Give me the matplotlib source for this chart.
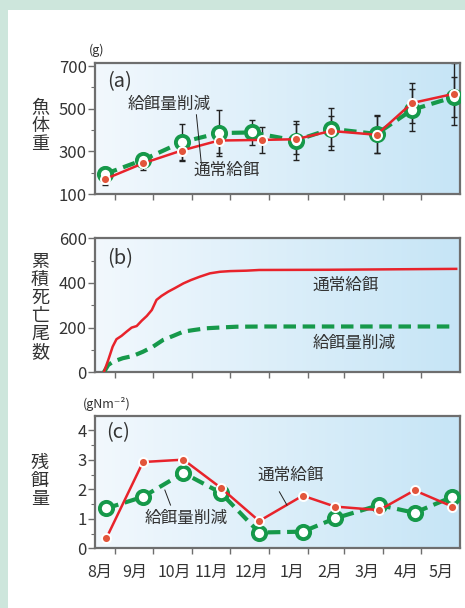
import matplotlib
matplotlib.use("Agg")
import matplotlib.pyplot as plt
import numpy as np
from matplotlib.patches import Rectangle

plt.rcParams['font.family'] = ['Noto Sans CJK JP', 'DejaVu Sans']

# 日数 (8月1日 = 0)
MONTH_EDGES = [31, 61, 92, 122, 153, 184, 212, 243, 273]
MONTH_LABEL_POS = [19, 46.5, 78, 107, 139, 171, 200.5, 230, 261, 289]
MONTH_LABELS = ["8月", "9月", "10月", "11月", "12月", "1月", "2月", "3月", "4月", "5月"]

# (a) 魚体重
a_normal_x = [23, 53, 83.5, 113, 147, 174, 202, 238, 266, 299]
a_normal_y = [170, 244, 304, 351, 354, 357, 396, 378, 527, 570]
a_normal_err = [28, 30, 50, 60, 62, 70, 72, 86, 95, 145]
a_reduced_x = [23, 53, 83.5, 113, 139, 174, 202, 238, 266, 299]
a_reduced_y = [194, 260, 343, 386, 389, 351, 406, 382, 495, 555]
a_reduced_err = [32, 20, 85, 109, 59, 90, 100, 90, 100, 95]

# (b) 累積死亡尾数
b_normal_x = [22, 25.5, 29, 32, 36, 40, 44, 48, 52, 56, 60, 63.7, 67.7, 73, 78, 85,
              91, 98, 106, 114, 122, 135, 145, 200, 250, 301]
b_normal_y = [0, 55, 115, 148, 163, 182, 200, 207, 231, 252, 279, 324, 342, 361, 376, 398,
              413, 428, 443, 450, 453, 455, 458, 459, 461, 463]
b_reduced_x = [22, 25.5, 29.5, 37, 45, 53, 61, 69, 77, 85, 93, 103, 116, 127, 150, 200, 299]
b_reduced_y = [0, 33, 48, 63, 73, 92, 115, 145, 163, 182, 189, 197, 201, 204, 205, 205, 205]

# (c) 残餌量
c_x = [24, 53, 85, 114.5, 145, 179.5, 205, 240, 268, 298]
c_normal = [0.35, 2.93, 3.01, 2.06, 0.93, 1.79, 1.42, 1.30, 1.97, 1.42]
c_reduced = [1.36, 1.75, 2.56, 1.89, 0.54, 0.57, 1.02, 1.47, 1.21, 1.75]

RED = '#e8232b'
RED_DOT = '#e2553b'
GREEN = '#16994a'
TEXT = '#333333'
SPINE = '#6e6e6e'
XLIM = (15, 304)


def gradient_bg(ax, ylim):
    """背景のグラデーション"""
    left = np.array([242, 248, 253]) / 255
    right = np.array([198, 229, 246]) / 255
    t = np.linspace(0, 1, 256)[None, :, None]
    img = left + (right - left) * t
    ax.imshow(img, extent=[XLIM[0], XLIM[1], ylim[0], ylim[1]], aspect='auto',
              zorder=0, interpolation='bicubic')
    ax.set_xlim(*XLIM)
    ax.set_ylim(*ylim)


def style_axes(ax, ylim, major, minor, show_months=False):
    gradient_bg(ax, ylim)
    for sp in ax.spines.values():
        sp.set_color(SPINE)
        sp.set_linewidth(1.6)
    ax.set_yticks(major)
    ax.set_yticks(minor, minor=True)
    ax.tick_params(axis='y', which='major', length=5, width=1, color=SPINE,
                   labelsize=12, labelcolor=TEXT, pad=1)
    ax.tick_params(axis='y', which='minor', length=3, width=0.8, color=SPINE)
    ax.set_xticks(MONTH_EDGES)
    ax.set_xticklabels([])
    ax.tick_params(axis='x', which='major', length=4, width=1, color=SPINE)
    if show_months:
        ax.set_xticks(MONTH_LABEL_POS, minor=True)
        ax.set_xticklabels(MONTH_LABELS, minor=True)
        ax.tick_params(axis='x', which='minor', length=0, pad=11, labelsize=11.5,
                       labelcolor=TEXT)
    else:
        ax.set_xticks([], minor=True)


fig = plt.figure(figsize=(4.65, 6.08), dpi=100)
fig.patch.set_facecolor('#cde6dc')
fig.add_artist(Rectangle((8 / 465, 0), 1, 1 - 10 / 608, transform=fig.transFigure,
                         facecolor='white', edgecolor='none', zorder=-1))

ax_a = fig.add_axes([0.2043, 0.6809, 0.7849, 0.2155])
ax_b = fig.add_axes([0.2043, 0.3877, 0.7849, 0.2204])
ax_c = fig.add_axes([0.2043, 0.0979, 0.7849, 0.2184])

# (a)
style_axes(ax_a, (100, 715), [100, 300, 500, 700], [200, 400, 600])
ax_a.errorbar(a_reduced_x, a_reduced_y, yerr=a_reduced_err, fmt='none', ecolor='#222222',
              elinewidth=1, capsize=2.2, capthick=1, zorder=2)
ax_a.errorbar(a_normal_x, a_normal_y, yerr=a_normal_err, fmt='none', ecolor='#222222',
              elinewidth=1, capsize=2.2, capthick=1, zorder=2)
ax_a.plot(a_reduced_x, a_reduced_y, color=GREEN, lw=3, dashes=(3, 1.6), marker='o',
          ms=9.5, mfc='white', mec=GREEN, mew=2.8, zorder=3)
ax_a.plot(a_normal_x, a_normal_y, color=RED, lw=1.8, marker='o', ms=6.5, mfc=RED_DOT,
          mec='white', mew=1.4, zorder=4)
ax_a.plot([95.3, 99.3], [472, 236], color='#222222', lw=0.7, zorder=5)
ax_a.text(74, 519, "給餌量削減", ha='center', va='center', fontsize=12, color=TEXT, zorder=6)
ax_a.text(119.5, 211, "通常給餌", ha='center', va='center', fontsize=12, color=TEXT, zorder=6)
ax_a.text(0.032, 0.86, "(a)", transform=ax_a.transAxes, ha='left', va='center',
          fontsize=14.5, color=TEXT)

# (b)
style_axes(ax_b, (0, 600), [0, 200, 400, 600], [100, 300, 500])
ax_b.plot(b_reduced_x, b_reduced_y, color=GREEN, lw=3, dashes=(3, 1.6), zorder=3)
ax_b.plot(b_normal_x, b_normal_y, color=RED, lw=1.8, zorder=4)
ax_b.text(187, 391, "通常給餌", ha='left', va='center', fontsize=12, color=TEXT)
ax_b.text(187, 131, "給餌量削減", ha='left', va='center', fontsize=12, color=TEXT)
ax_b.text(0.032, 0.845, "(b)", transform=ax_b.transAxes, ha='left', va='center',
          fontsize=14.5, color=TEXT)

# (c)
style_axes(ax_c, (0, 4.5), [0, 1, 2, 3, 4], [0.5, 1.5, 2.5, 3.5], show_months=True)
ax_c.plot(c_x, c_reduced, color=GREEN, lw=3, dashes=(3, 1.6), marker='o',
          ms=9.5, mfc='white', mec=GREEN, mew=2.8, zorder=3)
ax_c.plot(c_x, c_normal, color=RED, lw=1.8, marker='o', ms=6.5, mfc=RED_DOT,
          mec='white', mew=1.4, zorder=4)
ax_c.plot([161, 167], [1.92, 1.47], color='#222222', lw=0.7, zorder=5)
ax_c.plot([70.3, 74.8], [1.98, 1.47], color='#222222', lw=0.7, zorder=5)
ax_c.text(143.8, 2.48, "通常給餌", ha='left', va='center', fontsize=12, color=TEXT, zorder=6)
ax_c.text(54.5, 1.03, "給餌量削減", ha='left', va='center', fontsize=12, color=TEXT, zorder=6)
ax_c.text(0.03, 0.87, "(c)", transform=ax_c.transAxes, ha='left', va='center',
          fontsize=14.5, color=TEXT)

# 縦軸ラベル
for y, label in [(126, "魚\n体\n重"), (307, "累\n積\n死\n亡\n尾\n数"), (481, "残\n餌\n量")]:
    fig.text(40 / 465, 1 - y / 608, label, ha='center', va='center', fontsize=13,
             color=TEXT, linespacing=1.0)

# 単位
fig.text(97 / 465, 1 - 50 / 608, "(g)", ha='center', va='center', fontsize=9, color=TEXT)
fig.text(107 / 465, 1 - 404 / 608, "(gNm⁻²)", ha='center', va='center', fontsize=9,
         color=TEXT)

fig.savefig("out.png", dpi=100, facecolor=fig.get_facecolor())
